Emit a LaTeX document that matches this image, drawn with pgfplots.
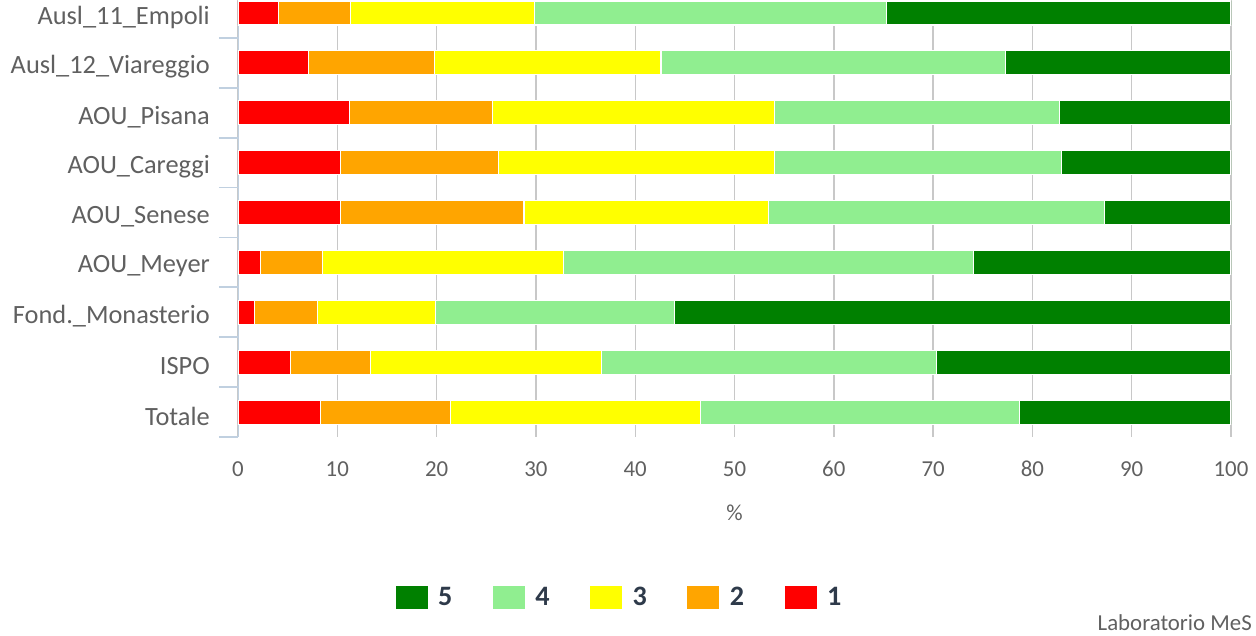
\documentclass[border=0pt]{standalone}
\usepackage{pgfplots}
\pgfplotsset{compat=1.18}
\usepackage{fontspec}
\setmainfont{Carlito}
\usetikzlibrary{calc}

\definecolor{c1}{HTML}{FF0000}
\definecolor{c2}{HTML}{FFA500}
\definecolor{c3}{HTML}{FFFF00}
\definecolor{c4}{HTML}{90EE90}
\definecolor{c5}{HTML}{008000}
\definecolor{gridcol}{HTML}{C8C8C8}
\definecolor{axiscol}{HTML}{C0D0E0}
\definecolor{labcol}{HTML}{606060}
\definecolor{legcol}{HTML}{2E3A4A}

\begin{document}
\begin{tikzpicture}
\begin{axis}[
    scale only axis,
    width=19.86cm, height=8.74cm,
    xbar stacked,
    bar width=0.48cm,
    enlargelimits=false,
    xmin=0, xmax=100,
    ymin=-0.26, ymax=8.5,
    y dir=reverse,
    axis line style={draw=none},
    xtick={0,10,...,100},
    ytick={0,...,8},
    yticklabels={Ausl\_11\_Empoli,Ausl\_12\_Viareggio,AOU\_Pisana,AOU\_Careggi,AOU\_Senese,AOU\_Meyer,Fond.\_Monasterio,ISPO,Totale},
    minor ytick={0.5,1.5,...,8.5},
    ytick pos=left,
    xtick pos=bottom,
    major tick length=0pt,
    minor tick length=0.38cm,
    tick align=outside,
    minor y tick style={draw=axiscol, line width=1pt},
    xmajorgrids,
    major grid style={draw=gridcol, line width=0.8pt},
    /pgf/number format/assume math mode=true,
    yticklabel style={font=\fontsize{15}{17}\selectfont, text=labcol, xshift=-0.44cm, yshift=-0.08cm},
    xticklabel style={font=\fontsize{13}{15}\selectfont, text=labcol, yshift=-0.36cm},
    xlabel={\%},
    xlabel style={at={(rel axis cs:0.5,0)}, anchor=center, yshift=-1.52cm, font=\fontsize{13}{15}\selectfont, text=labcol},
    legend style={at={(rel axis cs:0.385,-0.368)}, anchor=center, draw=none, fill=none,
        legend columns=-1, font=\fontsize{16}{18}\bfseries\selectfont, text=legcol,
        /tikz/every odd column/.append style={column sep=0.14cm},
        /tikz/every even column/.append style={column sep=0.74cm}},
    legend image code/.code={\path[#1, draw=none] (0cm,-0.23cm) rectangle (0.64cm,0.23cm);},
    reverse legend,
    every axis plot/.append style={draw=white, line width=0.6pt},
]
\addplot[fill=c1] coordinates {(4.1,0) (7.1,1) (11.2,2) (10.3,3) (10.3,4) (2.3,5) (1.7,6) (5.3,7) (8.35,8)};
\addplot[fill=c2] coordinates {(7.2,0) (12.65,1) (14.4,2) (15.9,3) (18.5,4) (6.2,5) (6.3,6) (8.05,7) (13.05,8)};
\addplot[fill=c3] coordinates {(18.6,0) (22.85,1) (28.45,2) (27.85,3) (24.6,4) (24.3,5) (11.9,6) (23.25,7) (25.2,8)};
\addplot[fill=c4] coordinates {(35.4,0) (34.7,1) (28.65,2) (28.85,3) (33.9,4) (41.3,5) (24.1,6) (33.7,7) (32.1,8)};
\addplot[fill=c5] coordinates {(34.7,0) (22.7,1) (17.3,2) (17.1,3) (12.7,4) (25.9,5) (56.0,6) (29.7,7) (21.3,8)};
\legend{1,2,3,4,5}
\draw[axiscol, line width=1pt] (rel axis cs:0,0) -- (rel axis cs:0,1);
\coordinate (bl) at (rel axis cs:0,0);
\coordinate (tr) at (rel axis cs:1,1);
\coordinate (br) at (rel axis cs:1,0);
\end{axis}
\node[anchor=east, font=\fontsize{13}{15}\selectfont, text=labcol] at ($(br)+(0.54cm,-3.72cm)$) {Laboratorio MeS};
\pgfresetboundingbox
\useasboundingbox ($(bl)+(-4.76cm,-3.96cm)$) rectangle ($(tr)+(0.5cm,0cm)$);
\end{tikzpicture}
\end{document}
